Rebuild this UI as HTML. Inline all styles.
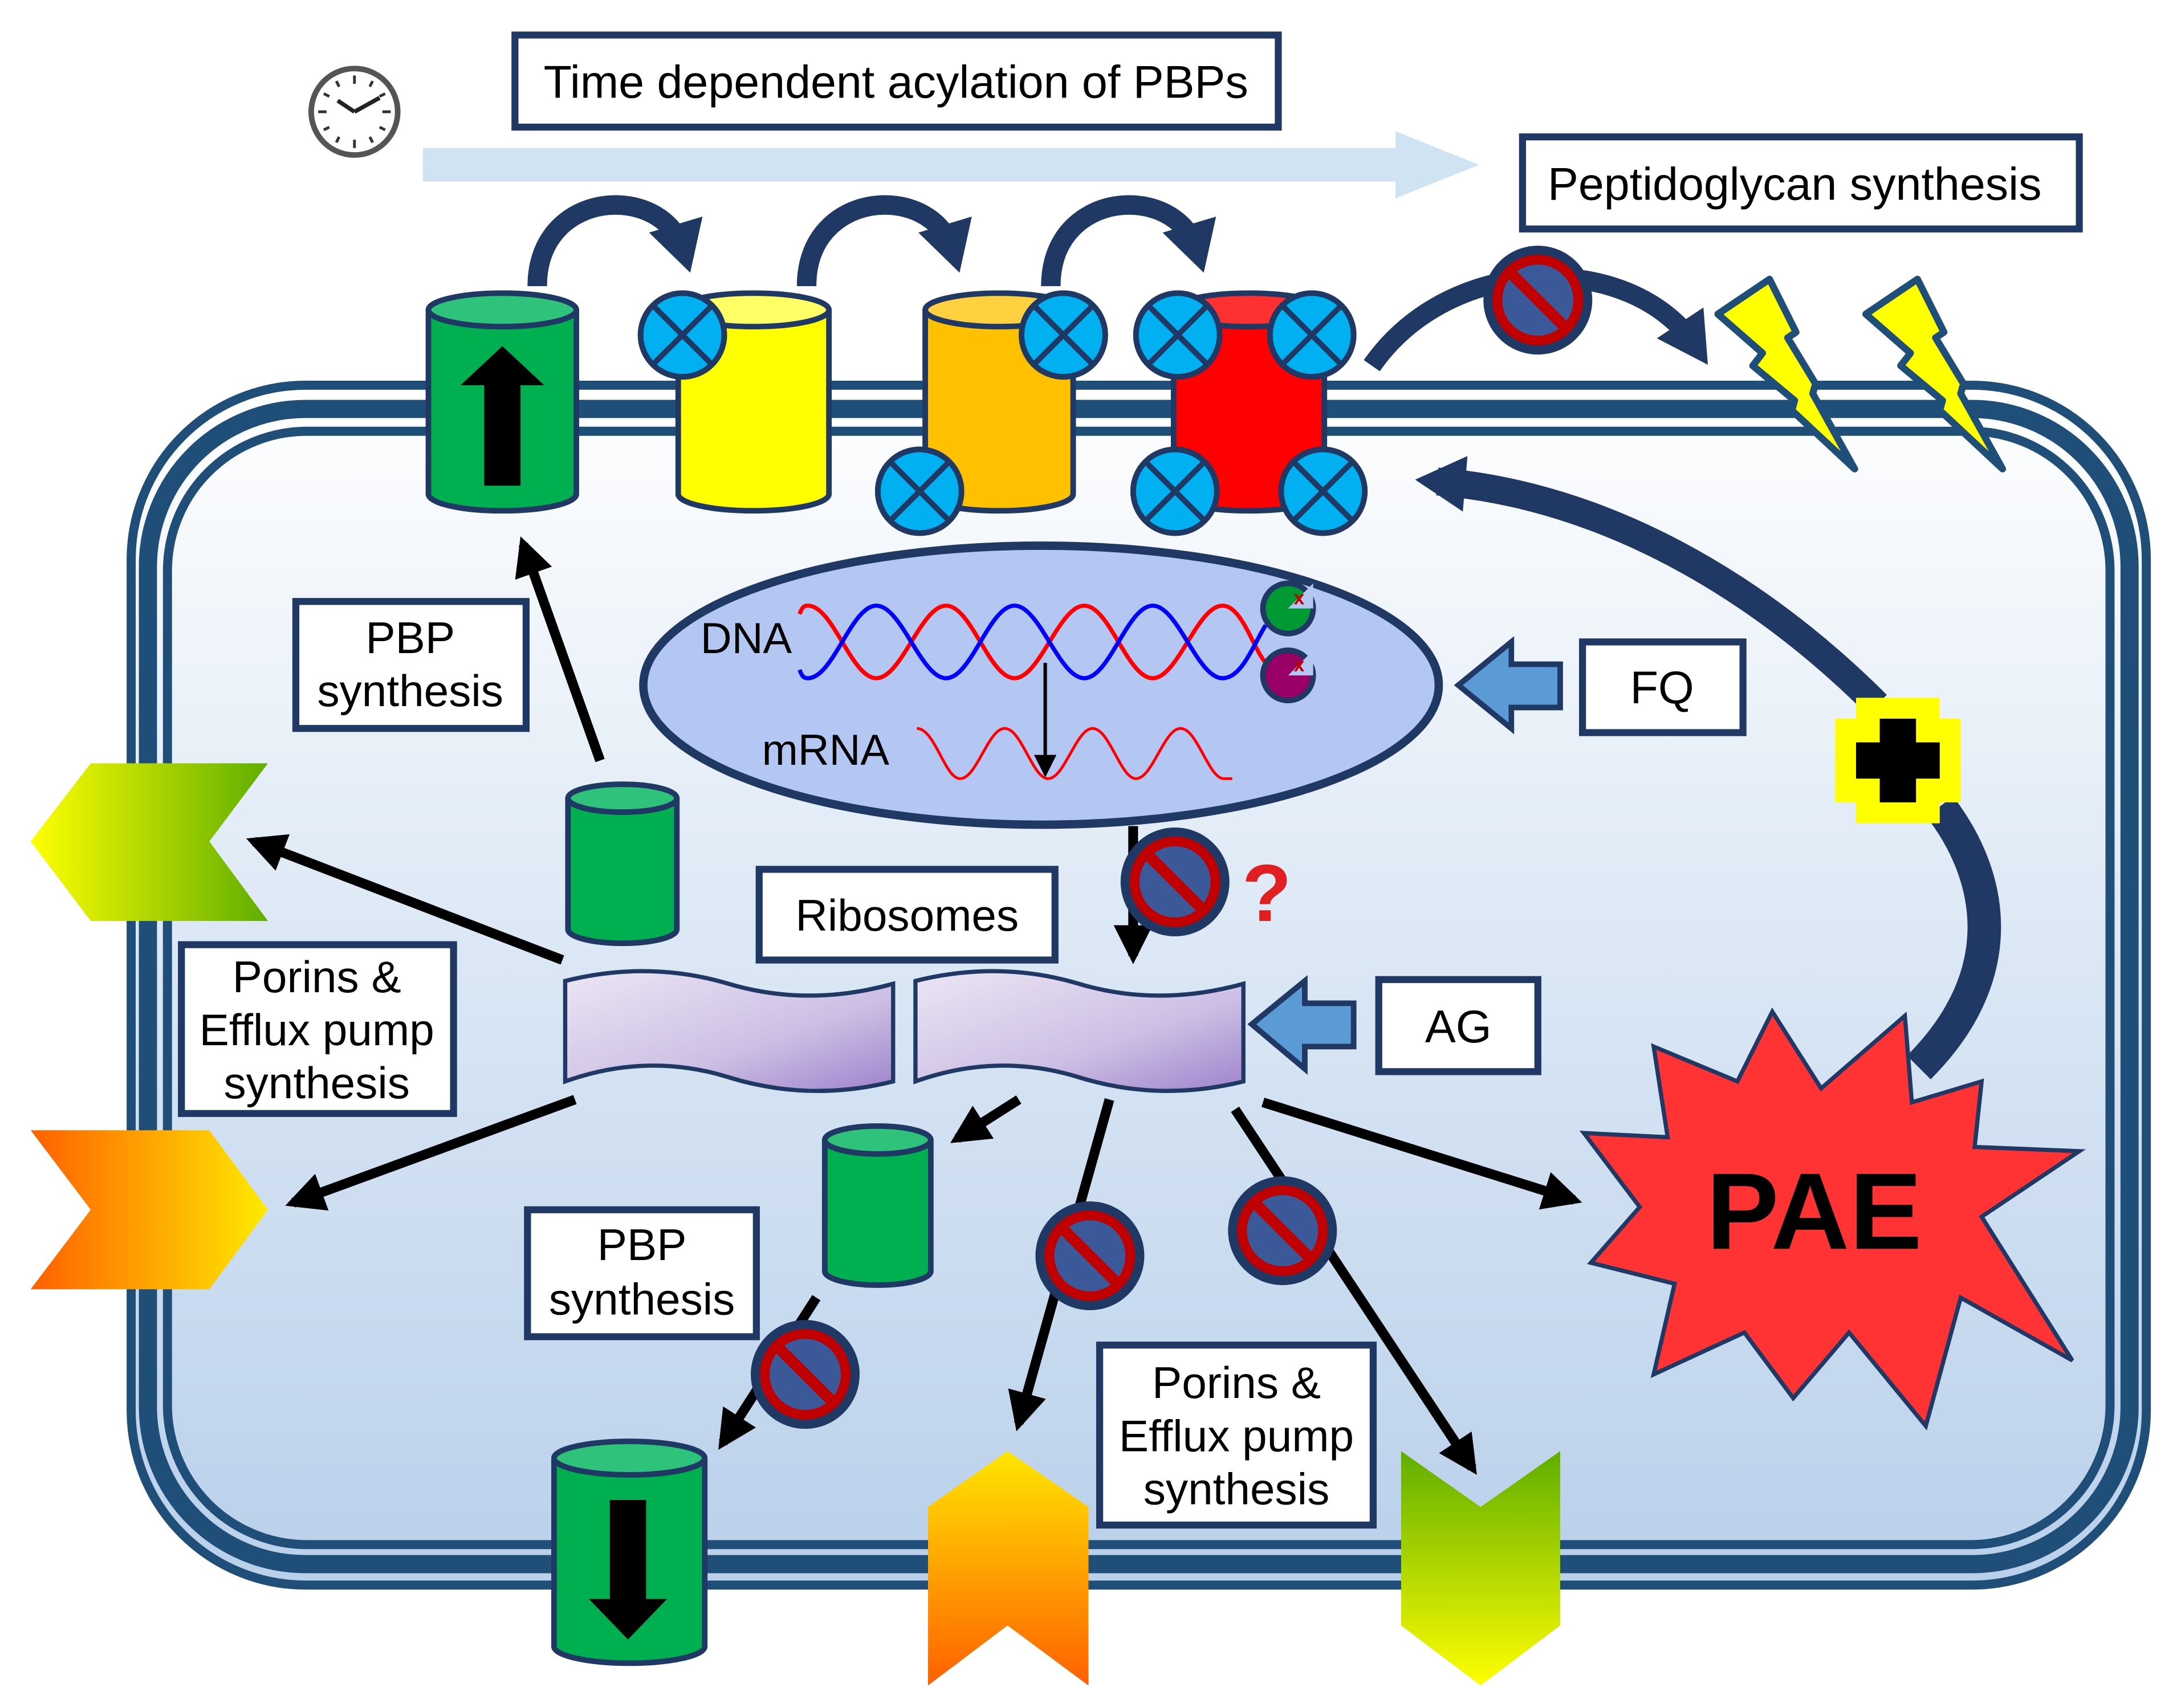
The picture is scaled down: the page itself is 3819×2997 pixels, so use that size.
<!DOCTYPE html>
<html><head><meta charset="utf-8"><style>html,body{margin:0;padding:0;background:#fff}svg{display:block}</style></head><body>
<svg width="3819" height="2997" viewBox="0 0 1560 1224" xmlns="http://www.w3.org/2000/svg" font-family="Liberation Sans, Arial, sans-serif">
<defs>
<linearGradient id="cell" x1="0" y1="0" x2="0" y2="1"><stop offset="0" stop-color="#ffffff"/><stop offset="0.5" stop-color="#d9e6f4"/><stop offset="1" stop-color="#b9d0ea"/></linearGradient>
<linearGradient id="ribo" x1="0" y1="0" x2="1" y2="1"><stop offset="0" stop-color="#ece6f4"/><stop offset="0.6" stop-color="#cdbfe4"/><stop offset="1" stop-color="#9f83cc"/></linearGradient>
<linearGradient id="gy" x1="0" y1="0" x2="1" y2="0"><stop offset="0" stop-color="#ffff00"/><stop offset="1" stop-color="#5fae00"/></linearGradient>
<linearGradient id="oy" x1="0" y1="0" x2="1" y2="0"><stop offset="0" stop-color="#ff6000"/><stop offset="1" stop-color="#ffea00"/></linearGradient>
<linearGradient id="oyv" x1="0" y1="0" x2="0" y2="1"><stop offset="0" stop-color="#ffe600"/><stop offset="1" stop-color="#ff6000"/></linearGradient>
<linearGradient id="gyv" x1="0" y1="0" x2="0" y2="1"><stop offset="0" stop-color="#5fae00"/><stop offset="1" stop-color="#ffff00"/></linearGradient>
<marker id="ah" markerUnits="userSpaceOnUse" markerWidth="40" markerHeight="40" refX="22" refY="14" orient="auto"><path d="M0,0 L28,14 L0,28 Z" fill="#000"/></marker>
<marker id="ahs" markerUnits="userSpaceOnUse" markerWidth="20" markerHeight="20" refX="14" refY="8" orient="auto"><path d="M0,0 L16,8 L0,16 Z" fill="#000"/></marker>
<marker id="nh" markerUnits="userSpaceOnUse" markerWidth="50" markerHeight="50" refX="20" refY="20" orient="auto"><path d="M0,0 L36,20 L0,40 Z" fill="#1f3864"/></marker>
<g id="xc"><circle r="30" fill="#00b0f0" stroke="#1f3864" stroke-width="4"/><path d="M-21,-21 L21,21 M21,-21 L-21,21" stroke="#1f3864" stroke-width="4"/><circle r="30" fill="none" stroke="#1f3864" stroke-width="4"/></g>
<g id="no"><circle r="39" fill="#1f3864"/><circle r="29" fill="#3b5998" stroke="#c00000" stroke-width="7"/><path d="M-20,-20 L20,20" stroke="#c00000" stroke-width="8"/></g>
</defs>
<rect width="1560" height="1224" fill="#fff"/>
<!-- clock -->
<circle cx="254" cy="80" r="31" fill="#fff" stroke="#555" stroke-width="4"/>
<g stroke="#333" stroke-width="2"><path d="M254,54v6M254,100v6M228,80h6M274,80h6M241,58l2,4M267,58l-2,4M241,102l2,-4M267,102l-2,-4M232,67l4,2M276,67l-4,2M232,93l4,-2M276,93l-4,-2"/></g>
<path d="M254,80 L242,72 M254,80 L272,70" stroke="#222" stroke-width="3"/>
<!-- top boxes -->
<rect x="369" y="25" width="547" height="66" fill="#fff" stroke="#1f3864" stroke-width="5"/>
<text x="642" y="70" font-size="33" text-anchor="middle">Time dependent acylation of PBPs</text>
<polygon points="303,106 1000,106 1000,94 1060,118 1000,142 1000,130 303,130" fill="#cfe3f3"/>
<rect x="1091" y="98" width="399" height="66" fill="#fff" stroke="#1f3864" stroke-width="5"/>
<text x="1286" y="143" font-size="33" text-anchor="middle">Peptidoglycan synthesis</text>
<!-- cell -->
<rect x="94" y="276" width="1444" height="860" rx="125" fill="url(#cell)"/>
<rect x="94" y="276" width="1444" height="860" rx="125" fill="none" stroke="#1f4e79" stroke-width="6.5"/>
<rect x="106" y="293" width="1420" height="828" rx="113" fill="none" stroke="#1f4e79" stroke-width="13"/>
<rect x="120" y="309" width="1392" height="798" rx="100" fill="none" stroke="#1f4e79" stroke-width="6.5"/>
<!-- PBP cylinders top -->
<g stroke="#1f3864" stroke-width="4">
<path d="M307,222 V354 A53,12 0 0 0 413,354 V222" fill="#00b050"/><ellipse cx="360" cy="222" rx="53" ry="12" fill="#2ec27a"/>
<path d="M486,222 V354 A54,12 0 0 0 594,354 V222" fill="#ffff00"/><ellipse cx="540" cy="222" rx="54" ry="12" fill="#ffff66"/>
<path d="M663,222 V354 A53,12 0 0 0 769,354 V222" fill="#ffc000"/><ellipse cx="716" cy="222" rx="53" ry="12" fill="#ffd040"/>
<path d="M841,222 V354 A54,12 0 0 0 949,354 V222" fill="#ff0000"/><ellipse cx="895" cy="222" rx="54" ry="12" fill="#ff3030"/>
</g>
<polygon points="360,248 390,276 373,276 373,348 347,348 347,276 330,276" fill="#000"/>
<use href="#xc" x="489" y="240"/><use href="#xc" x="659" y="352"/><use href="#xc" x="762" y="240"/>
<use href="#xc" x="844" y="240"/><use href="#xc" x="940" y="240"/><use href="#xc" x="842" y="352"/><use href="#xc" x="948" y="352"/>
<!-- navy curved arrows -->
<g fill="none" stroke="#1f3864" stroke-width="14">
<path d="M385,205 C385,135 475,130 490,180" marker-end="url(#nh)"/>
<path d="M578,205 C578,135 668,130 683,180" marker-end="url(#nh)"/>
<path d="M753,205 C753,135 843,130 858,180" marker-end="url(#nh)"/>
<path d="M983,262 C1040,180 1170,180 1215,248" marker-end="url(#nh)"/>
<path d="M1345,505 C1260,420 1150,355 1030,345" stroke-width="20" marker-end="url(#nh)"/>
<path d="M1375,765 C1440,700 1430,630 1390,578" stroke-width="24"/>
</g>
<use href="#no" x="1102" y="215"/>
<!-- lightning -->
<g fill="#ffff00" stroke="#1f4e79" stroke-width="5" stroke-linejoin="round">
<polygon points="1231,225 1268,200 1287,238 1281,242 1301,275 1299,282 1329,336 1284,294 1286,287 1256,262 1263,253"/>
<polygon points="1337,225 1374,200 1393,238 1387,242 1407,275 1405,282 1435,336 1390,294 1392,287 1362,262 1369,253"/>
</g>
<!-- plus -->
<path d="M1330,500 h60 v15 h15 v60 h-15 v15 h-60 v-15 h-15 v-60 h15 Z" fill="#ffff00"/>
<path d="M1347,515 h26 v17 h17 v26 h-17 v17 h-26 v-17 h-17 v-26 h17 Z" fill="#000"/>
<!-- nucleoid -->
<ellipse cx="746" cy="491" rx="285" ry="100" fill="#b4c7f2" stroke="#1f3864" stroke-width="6"/>
<text x="502" y="468" font-size="31">DNA</text>
<text x="546" y="548" font-size="31">mRNA</text>
<path d="M573,440 C575,434 577,434 579,434 C597,434 610,486 628,486 C646,486 660,434 678,434 C696,434 709,486 727,486 C745,486 759,434 777,434 C795,434 808,486 826,486 C844,486 858,434 876,434 C890,434 898,465 907,475" fill="none" stroke="#ff0000" stroke-width="3"/>
<path d="M573,480 C575,486 577,486 579,486 C597,486 610,434 628,434 C646,434 660,486 678,486 C696,486 709,434 727,434 C745,434 759,486 777,486 C795,486 808,434 826,434 C844,434 858,486 876,486 C890,486 898,462 907,448" fill="none" stroke="#0000ff" stroke-width="3"/>
<path d="M657,522 C670,522 677,558 688,558 C700,558 708,522 720,522 C732,522 740,558 751,558 C763,558 771,522 783,522 C795,522 803,558 814,558 C826,558 834,522 846,522 C858,522 866,558 877,558 L883,558" fill="none" stroke="#ff0000" stroke-width="2"/>
<line x1="749" y1="475" x2="749" y2="555" stroke="#000" stroke-width="2.5" marker-end="url(#ahs)"/>
<g stroke="#1f3864" stroke-width="4"><circle cx="923" cy="436" r="18" fill="#009933"/><circle cx="923" cy="484" r="18" fill="#990066"/></g>
<path d="M923,436 h18 v-18 z M923,484 h18 v-18 z" fill="#b4c7f2"/>
<text x="927" y="433" font-size="14" fill="#c00000" font-weight="bold">x</text><text x="927" y="481" font-size="14" fill="#c00000" font-weight="bold">x</text>
<!-- FQ / AG -->
<polygon points="1045,491 1083,460 1083,476 1118,476 1118,507 1083,507 1083,522" fill="#5b9bd5" stroke="#1f3864" stroke-width="4"/>
<rect x="1134" y="460" width="115" height="65" fill="#fff" stroke="#1f3864" stroke-width="5"/>
<text x="1191" y="504" font-size="33" text-anchor="middle">FQ</text>
<polygon points="897,734 935,703 935,719 970,719 970,750 935,750 935,766" fill="#5b9bd5" stroke="#1f3864" stroke-width="4"/>
<rect x="988" y="702" width="114" height="66" fill="#fff" stroke="#1f3864" stroke-width="5"/>
<text x="1045" y="747" font-size="33" text-anchor="middle">AG</text>
<!-- ribosomes -->
<rect x="544" y="623" width="212" height="65" fill="#fff" stroke="#1f3864" stroke-width="5"/>
<text x="650" y="667" font-size="32" text-anchor="middle">Ribosomes</text>
<path d="M405,703 Q465,688 522,705 T640,705 L640,775 Q580,790 522,772 T405,775 Z" fill="url(#ribo)" stroke="#1f3864" stroke-width="3"/>
<path d="M656,703 Q716,688 773,705 T891,705 L891,775 Q831,790 773,772 T656,775 Z" fill="url(#ribo)" stroke="#1f3864" stroke-width="3"/>
<!-- small cylinders -->
<g stroke="#1f3864" stroke-width="4">
<path d="M407,572 V666 A39,10 0 0 0 485,666 V572" fill="#00b050"/><ellipse cx="446" cy="572" rx="39" ry="10" fill="#2ec27a"/>
<path d="M591,817 V911 A38,10 0 0 0 667,911 V817" fill="#00b050"/><ellipse cx="629" cy="817" rx="38" ry="10" fill="#2ec27a"/>
<path d="M397,1045 V1180 A54,12 0 0 0 505,1180 V1045" fill="#00b050"/><ellipse cx="451" cy="1045" rx="54" ry="12" fill="#2ec27a"/>
</g>
<polygon points="450,1175 478,1146 463,1146 463,1075 437,1075 437,1146 422,1146" fill="#000"/>
<!-- text boxes -->
<rect x="212" y="431" width="165" height="91" fill="#fff" stroke="#1f3864" stroke-width="5"/>
<text x="294" y="468" font-size="32" text-anchor="middle">PBP</text><text x="294" y="506" font-size="32" text-anchor="middle">synthesis</text>
<rect x="378" y="867" width="164" height="91" fill="#fff" stroke="#1f3864" stroke-width="5"/>
<text x="460" y="903" font-size="32" text-anchor="middle">PBP</text><text x="460" y="942" font-size="32" text-anchor="middle">synthesis</text>
<rect x="130" y="677" width="195" height="121" fill="#fff" stroke="#1f3864" stroke-width="5"/>
<text x="227" y="711" font-size="32" text-anchor="middle">Porins &amp;</text><text x="227" y="749" font-size="32" text-anchor="middle">Efflux pump</text><text x="227" y="787" font-size="32" text-anchor="middle">synthesis</text>
<rect x="788" y="964" width="196" height="129" fill="#fff" stroke="#1f3864" stroke-width="5"/>
<text x="886" y="1002" font-size="32" text-anchor="middle">Porins &amp;</text><text x="886" y="1040" font-size="32" text-anchor="middle">Efflux pump</text><text x="886" y="1078" font-size="32" text-anchor="middle">synthesis</text>
<!-- chevrons -->
<polygon points="22,603 65,547 192,547 150,603 192,660 65,660" fill="url(#gy)"/>
<polygon points="22,810 150,810 192,867 150,924 22,924 65,867" fill="url(#oy)"/>
<polygon points="665,1080 722,1040 780,1080 780,1208 722,1165 665,1208" fill="url(#oyv)"/>
<polygon points="1004,1040 1061,1080 1118,1040 1118,1165 1061,1208 1004,1165" fill="url(#gyv)"/>
<!-- black arrows -->
<g stroke="#000" stroke-width="7" fill="none">
<line x1="430" y1="545" x2="375" y2="390" marker-end="url(#ah)"/>
<line x1="403" y1="688" x2="182" y2="603" marker-end="url(#ah)"/>
<line x1="412" y1="788" x2="210" y2="862" marker-end="url(#ah)"/>
<line x1="730" y1="788" x2="686" y2="816" marker-end="url(#ah)"/>
<line x1="585" y1="930" x2="518" y2="1034" marker-end="url(#ah)"/>
<line x1="795" y1="788" x2="730" y2="1020" marker-end="url(#ah)"/>
<line x1="885" y1="795" x2="1055" y2="1052" marker-end="url(#ah)"/>
<line x1="905" y1="790" x2="1128" y2="860" marker-end="url(#ah)"/>
<line x1="812" y1="592" x2="812" y2="685" marker-end="url(#ah)"/>
</g>
<!-- PAE -->
<polygon points="1185,750 1245,775 1270,725 1305,780 1365,728 1370,790 1420,775 1415,822 1490,825 1420,872 1485,975 1405,930 1380,1022 1325,955 1285,1002 1250,955 1185,985 1200,920 1140,905 1175,865 1135,812 1195,815" fill="#ff3333" stroke="#1f3864" stroke-width="3"/>
<text x="1300" y="895" font-size="78" font-weight="bold" text-anchor="middle">PAE</text>
<!-- prohibition signs -->
<use href="#no" x="842" y="632"/><use href="#no" x="781" y="900"/><use href="#no" x="919" y="882"/><use href="#no" x="577" y="985"/>
<text x="890" y="660" font-size="58" font-weight="bold" fill="#e02020">?</text>
</svg>
</body></html>
